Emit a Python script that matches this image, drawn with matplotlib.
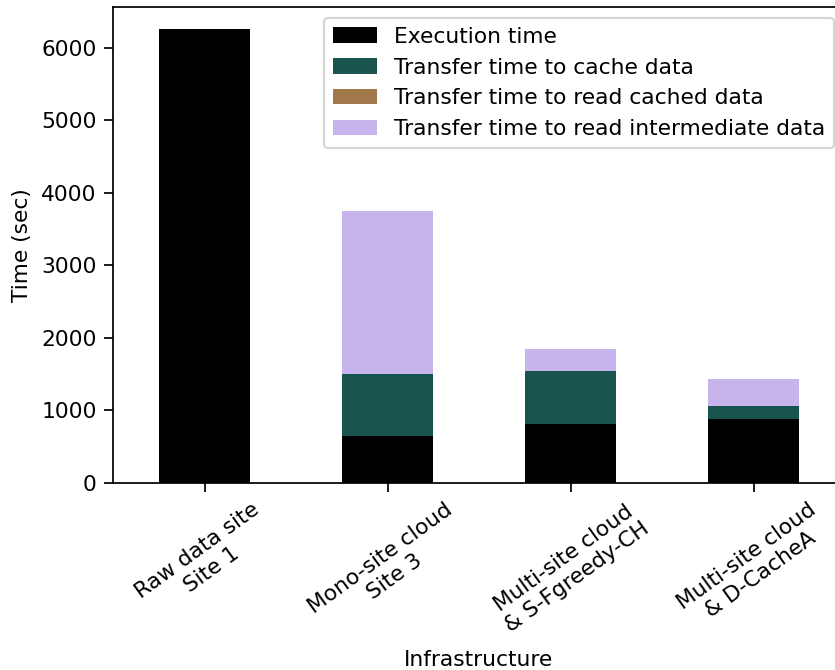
import matplotlib
matplotlib.use("Agg")
import matplotlib.pyplot as plt
import numpy as np

categories = ["Raw data site\nSite 1", "Mono-site cloud\nSite 3",
              "Multi-site cloud\n& S-Fgreedy-CH", "Multi-site cloud\n& D-CacheA"]
execution = [6250, 648, 814, 883]
cache_transfer = [0, 855, 731, 179]
read_cached = [0, 0, 0, 0]
read_intermediate = [0, 2250, 303, 372]

series = [
    ("Execution time", execution, "#000000"),
    ("Transfer time to cache data", cache_transfer, "#19544f"),
    ("Transfer time to read cached data", read_cached, "#a2794b"),
    ("Transfer time to read intermediate data", read_intermediate, "#c8b4ec"),
]

DPI = 157
plt.rcParams["font.size"] = 10
plt.rcParams["xtick.major.size"] = 4
plt.rcParams["ytick.major.size"] = 4
fig = plt.figure(figsize=(835 / DPI, 670 / DPI), dpi=DPI)
ax = fig.add_axes([113/835, 1-483/670, (845-113)/835, (483-7)/670])
x = np.arange(len(categories))
bottom = np.zeros(len(categories))
for name, vals, col in series:
    ax.bar(x, vals, 0.5, bottom=bottom, color=col, label=name)
    bottom += np.array(vals)

ax.set_xlim(-0.5, 3.5)
ax.set_ylim(0, 6560)
ax.set_yticks([0, 1000, 2000, 3000, 4000, 5000, 6000])
ax.set_xticks(x)
ax.set_xticklabels(categories, rotation=36, ha="center")
ax.set_ylabel("Time (sec)")
ax.set_xlabel("Infrastructure", labelpad=6.5)
ax.legend(loc="upper right")
fig.savefig("out.png", dpi=DPI)
